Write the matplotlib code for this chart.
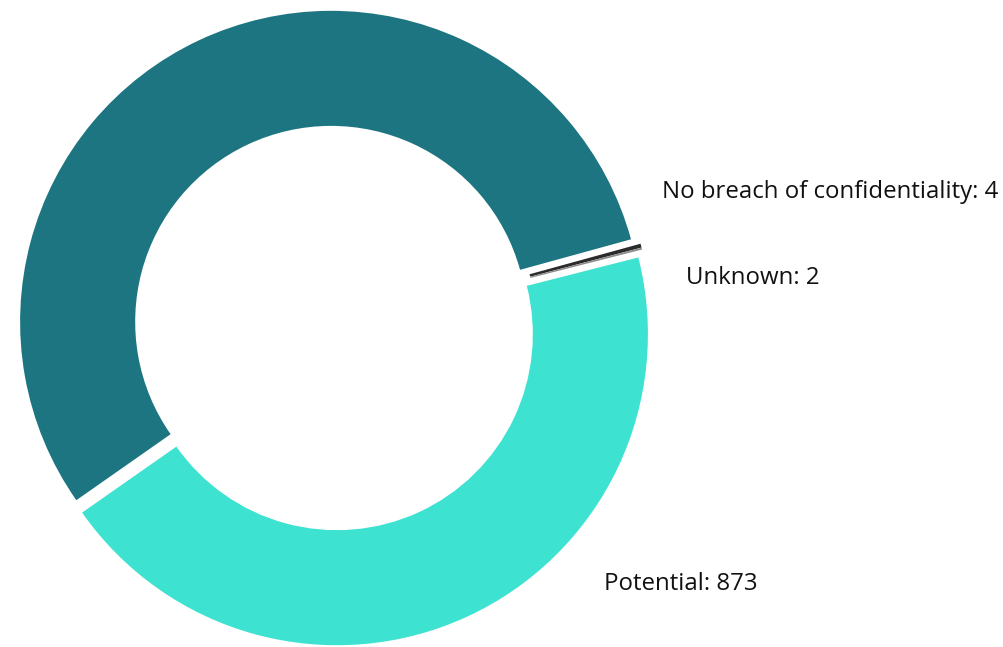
import matplotlib.pyplot as plt

# breach outcome counts, in drawing order (clockwise from lower left)
categories = ["Breach of confidentiality", "No breach of confidentiality", "Unknown", "Potential"]
counts = [1094, 4, 2, 873]
colors = ["#1c7580", "#2b2b2b", "#8c8c8c", "#3de2d0"]
show_label = [False, True, True, True]

# label anchors in data units (left edge, vertical centre)
label_pos = {
    "No breach of confidentiality": (1.055, 0.436),
    "Unknown": (1.132, 0.160),
    "Potential": (0.868, -0.824),
}

plt.rcParams["font.family"] = ["Open Sans", "DejaVu Sans"]

fig = plt.figure(figsize=(10.04, 6.47), dpi=100)
ax = fig.add_axes([0, 0, 1, 1])

wedges, _ = ax.pie(
    counts,
    colors=colors,
    startangle=215,
    counterclock=False,
    explode=[0.022] * len(counts),
    radius=1.0,
    wedgeprops=dict(width=0.37, linewidth=0),
)

for name, value, show in zip(categories, counts, show_label):
    if not show:
        continue
    x, y = label_pos[name]
    ax.text(x, y, f"{name}: {value}", fontsize=17.3, color="#111111",
            ha="left", va="center")

ax.set_xlim(-1.074, 2.154)
ax.set_ylim(-1.0257, 1.0547)
ax.set_aspect("auto")
ax.axis("off")

fig.savefig("out.png", dpi=100, facecolor="white")
